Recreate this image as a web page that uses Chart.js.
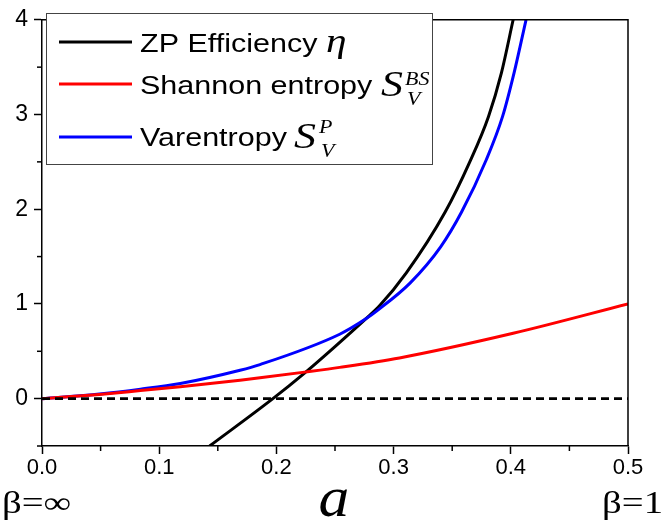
<!DOCTYPE html>
<html>
<head>
<meta charset="utf-8">
<script src="https://cdn.jsdelivr.net/npm/chart.js@4/dist/chart.umd.min.js"></script>
<style>
html,body{margin:0;padding:0;background:#fff;}
canvas{display:block;}
</style>
</head>
<body>
<canvas id="c" width="664" height="531"></canvas>
<script>
// ---- data ----
const etaA = [0.143, 0.197, 0.224, 0.250, 0.276, 0.288, 0.311, 0.344, 0.365, 0.381, 0.392, 0.402];
const etaY = [-0.5, 0, 0.27, 0.55, 0.84, 0.98, 1.33, 1.97, 2.50, 2.98, 3.44, 4.0];

const shanA = [0, 0.049, 0.084, 0.118, 0.169, 0.186, 0.224, 0.254, 0.305, 0.402, 0.5];
const shanY = [0, 0.045, 0.085, 0.125, 0.195, 0.22, 0.28, 0.33, 0.43, 0.69, 1.0];

const varA = [0, 0.049, 0.084, 0.118, 0.169, 0.186, 0.254, 0.276, 0.286, 0.314, 0.340, 0.358, 0.379, 0.393, 0.403, 0.413];
const varY = [0, 0.05, 0.10, 0.16, 0.30, 0.36, 0.68, 0.84, 0.93, 1.22, 1.60, 1.97, 2.52, 2.98, 3.45, 4.0];

const zeroA = [0, 0.5];
const zeroY = [0, 0];

const xTickLabels = ['0.0', '0.1', '0.2', '0.3', '0.4', '0.5'];
const yTickLabels = ['0', '1', '2', '3', '4'];
const legendNames = ['ZP Efficiency ', 'Shannon entropy ', 'Varentropy '];
const seriesColors = ['#000000', '#ff0000', '#0000ff'];

function pts(xs, ys) { return xs.map((x, i) => ({x: x, y: ys[i]})); }

const isMajor = (v, step) => Math.abs(v / step - Math.round(v / step)) < 1e-6;

const framePlugin = {
  id: 'frame',
  afterDraw(chart) {
    const ctx = chart.ctx;
    const ca = chart.chartArea;
    const xs = chart.scales.x, ys = chart.scales.y;
    ctx.save();
    // frame
    ctx.strokeStyle = '#000';
    ctx.lineWidth = 1.5;
    ctx.beginPath();
    ctx.moveTo(ca.left, ca.top); ctx.lineTo(ca.right, ca.top); ctx.lineTo(ca.right, ca.bottom);
    ctx.stroke();
    // minor ticks
    ctx.lineWidth = 1.5;
    xs.ticks.forEach(t => {
      if (!isMajor(t.value, 0.1)) {
        const px = xs.getPixelForValue(t.value);
        ctx.beginPath(); ctx.moveTo(px, ca.bottom); ctx.lineTo(px, ca.bottom + 5); ctx.stroke();
      }
    });
    ys.ticks.forEach(t => {
      if (!isMajor(t.value, 1)) {
        const py = ys.getPixelForValue(t.value);
        ctx.beginPath(); ctx.moveTo(ca.left, py); ctx.lineTo(ca.left - 5, py); ctx.stroke();
      }
    });

    // legend
    ctx.strokeStyle = '#444';
    ctx.lineWidth = 1;
    ctx.fillStyle = '#fff';
    ctx.fillRect(46.5, 13.5, 386, 151);
    ctx.strokeRect(46.5, 13.5, 386, 151);
    const rowsY = [42, 84, 137];
    const base = [52, 94, 146];
    const sx = 1.22;
    function txt(s, x, y, font) {
      ctx.save();
      ctx.translate(x, y);
      ctx.scale(sx, 1);
      ctx.font = font;
      ctx.fillStyle = '#000';
      ctx.textBaseline = 'alphabetic';
      ctx.textAlign = 'left';
      ctx.fillText(s, 0, 0);
      ctx.restore();
    }
    for (let i = 0; i < 3; i++) {
      ctx.strokeStyle = seriesColors[i];
      ctx.lineWidth = 3;
      ctx.beginPath(); ctx.moveTo(59, rowsY[i]); ctx.lineTo(132, rowsY[i]); ctx.stroke();
      txt(legendNames[i], 140, base[i], '25px "Liberation Sans", Arial, sans-serif');
    }
    const serifI = (n) => 'italic ' + n + 'px "Liberation Serif", "Times New Roman", serif';
    txt('\u03B7', 326, 52, serifI(34));
    txt('S', 381, 96, serifI(36));
    txt('BS', 405, 85, serifI(18));
    txt('V', 407, 105, serifI(18));
    txt('S', 294, 148, serifI(36));
    txt('P', 319, 133, serifI(18));
    txt('V', 321, 157, serifI(18));

    // bottom labels
    ctx.fillStyle = '#000';
    ctx.save();
    ctx.translate(2, 513); ctx.scale(1.25, 1);
    ctx.font = '31px "Liberation Serif", "Times New Roman", serif';
    ctx.textAlign = 'left';
    ctx.fillText('\u03B2=\u221E', 0, 0);
    ctx.restore();
    ctx.save();
    ctx.translate(663, 513); ctx.scale(1.25, 1);
    ctx.font = '31px "Liberation Serif", "Times New Roman", serif';
    ctx.textAlign = 'right';
    ctx.fillText('\u03B2=1', 0, 0);
    ctx.restore();
    ctx.save();
    ctx.translate(334, 516); ctx.scale(1.1, 1);
    ctx.font = serifI(56);
    ctx.textAlign = 'center';
    ctx.fillText('a', 0, 0);
    ctx.restore();
    ctx.restore();
  }
};

const lineDs = (label, data, color, extra) => Object.assign({
  label: label, data: data, borderColor: color, backgroundColor: color,
  borderWidth: 3, pointRadius: 0, fill: false, cubicInterpolationMode: 'monotone'
}, extra || {});

new Chart(document.getElementById('c'), {
  type: 'line',
  data: {
    datasets: [
      lineDs('zero', pts(zeroA, zeroY), '#000', {borderDash: [8, 5], borderWidth: 2.6, cubicInterpolationMode: 'default'}),
      lineDs('Shannon entropy', pts(shanA, shanY), '#ff0000'),
      lineDs('Varentropy', pts(varA, varY), '#0000ff'),
      lineDs('ZP Efficiency', pts(etaA, etaY), '#000000')
    ]
  },
  options: {
    responsive: false,
    animation: false,
    devicePixelRatio: 1,
    layout: {padding: {left: 0, right: 36, top: 12, bottom: 0}},
    plugins: {legend: {display: false}, tooltip: {enabled: false}},
    scales: {
      x: {
        type: 'linear', min: 0, max: 0.5,
        afterFit: (s) => { s.height = 85; },
        border: {color: '#000', width: 1.5},
        grid: {drawOnChartArea: false, tickLength: 8, tickWidth: 1.5,
               tickColor: (c) => (c.tick && isMajor(c.tick.value, 0.1)) ? '#000' : 'rgba(0,0,0,0)'},
        ticks: {
          stepSize: 0.05, autoSkip: false, maxRotation: 0, padding: 1, color: '#000',
          font: {size: 22, family: '"Liberation Sans", Arial, sans-serif'},
          callback: (v) => isMajor(v, 0.1) ? xTickLabels[Math.round(v * 10)] : ''
        }
      },
      y: {
        type: 'linear', min: -0.5, max: 4,
        afterFit: (s) => { s.width = 42; },
        border: {color: '#000', width: 1.5},
        grid: {drawOnChartArea: false, tickLength: 8, tickWidth: 1.5,
               tickColor: (c) => (c.tick && isMajor(c.tick.value, 1)) ? '#000' : 'rgba(0,0,0,0)'},
        ticks: {
          stepSize: 0.5, autoSkip: false, padding: 6, color: '#000',
          font: {size: 23, family: '"Liberation Sans", Arial, sans-serif'},
          callback: (v) => (isMajor(v, 1) && v >= 0) ? yTickLabels[Math.round(v)] : ''
        }
      }
    }
  },
  plugins: [framePlugin]
});
</script>
</body>
</html>
